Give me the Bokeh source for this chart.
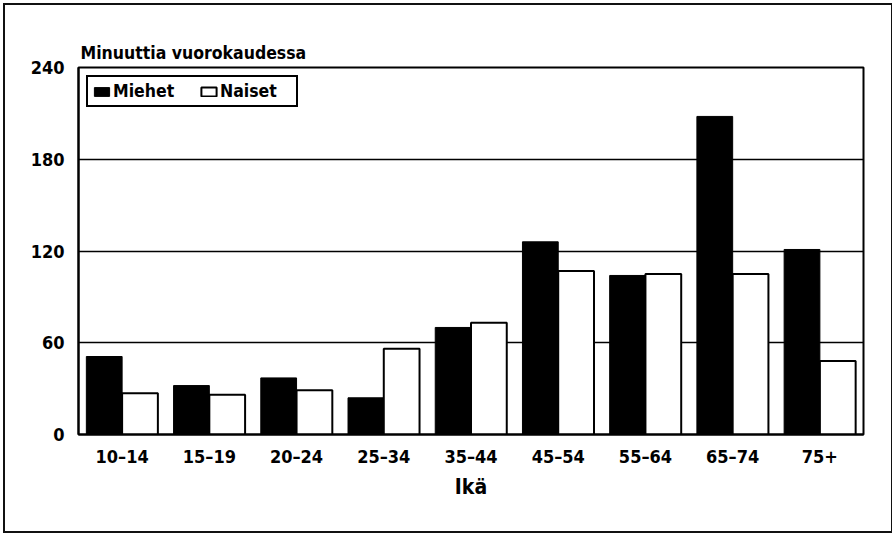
from bokeh.plotting import figure
from bokeh.models import Range1d, FixedTicker, Legend, LegendItem, ColumnDataSource
from bokeh.embed import file_html
from bokeh.resources import INLINE

# ---- data ----
categories = ["10–14", "15–19", "20–24", "25–34", "35–44", "45–54", "55–64", "65–74", "75+"]
miehet = [51, 32, 37, 24, 70, 126, 104, 208, 121]
naiset = [27, 26, 29, 56, 73, 107, 105, 105, 48]
y_ticks = [0, 60, 120, 180, 240]
series_names = ["Miehet", "Naiset"]
y_title = "Minuuttia vuorokaudessa"
x_title = "Ikä"

FONT = "DejaVu Sans Condensed"

centers = [i + 0.5 for i in range(len(categories))]
bw = 0.41
src = ColumnDataSource(dict(
    xm=[c - bw / 2 for c in centers],
    xn=[c + bw / 2 for c in centers],
    m=miehet, n=naiset,
))

p = figure(width=886, height=526, output_backend="svg", toolbar_location=None,
           x_range=Range1d(0, len(categories)), y_range=Range1d(0, 240),
           frame_width=785, frame_height=367,
           min_border_left=73, min_border_top=62, min_border_right=28, min_border_bottom=97)
p.margin = (5, 0, 0, 5)
p.styles = {"outline": "2px solid #111", "outline-offset": "0px"}

p.outline_line_color = "black"
p.outline_line_width = 2
p.outline_line_alpha = 1

rm = p.vbar(x="xm", top="m", width=bw, source=src, fill_color="black", line_color="black", line_width=1)
rn = p.vbar(x="xn", top="n", width=bw, source=src, fill_color="white", line_color="black", line_width=2)

# axes
p.xaxis.ticker = FixedTicker(ticks=centers)
p.xaxis.major_label_overrides = {c: lab for c, lab in zip(centers, categories)}
p.yaxis.ticker = FixedTicker(ticks=y_ticks)
for ax in (p.xaxis[0], p.yaxis[0]):
    ax.major_tick_line_color = None
    ax.minor_tick_line_color = None
    ax.major_tick_out = 0
    ax.major_tick_in = 0
    ax.axis_line_color = "black"
    ax.axis_line_width = 2
    ax.major_label_text_font = FONT
    ax.major_label_text_font_style = "bold"
    ax.major_label_text_font_size = "18px"
    ax.major_label_text_color = "black"
p.yaxis.major_label_standoff = 14
p.xaxis.major_label_standoff = 11
p.xaxis.axis_label = x_title
p.xaxis.axis_label_text_font = FONT
p.xaxis.axis_label_text_font_style = "bold"
p.xaxis.axis_label_text_font_size = "21px"
p.xaxis.axis_label_text_color = "black"
p.xaxis.axis_label_standoff = 5

p.xgrid.grid_line_color = None
p.ygrid.ticker = FixedTicker(ticks=y_ticks[1:-1])
p.ygrid.grid_line_color = "black"
p.ygrid.grid_line_width = 1.5
p.ygrid.grid_line_alpha = 1

p.title.text = y_title
p.title.align = "left"
p.title.offset = 2
p.title.standoff = 9
p.title.text_font = FONT
p.title.text_font_style = "bold"
p.title.text_font_size = "17.5px"
p.title.text_color = "black"

legend = Legend(items=[LegendItem(label=series_names[0], renderers=[rm]),
                       LegendItem(label=series_names[1], renderers=[rn])],
                location="top_left", orientation="horizontal",
                margin=8, padding=4, spacing=14,
                glyph_width=19, glyph_height=11, label_standoff=2, label_width=72,
                label_text_font=FONT, label_text_font_style="bold",
                label_text_font_size="17.5px", label_text_color="black",
                border_line_color="black", border_line_width=2, border_line_alpha=1,
                background_fill_color="white", background_fill_alpha=1)
p.add_layout(legend, "center")

open("out.html", "w").write(file_html(p, INLINE))
